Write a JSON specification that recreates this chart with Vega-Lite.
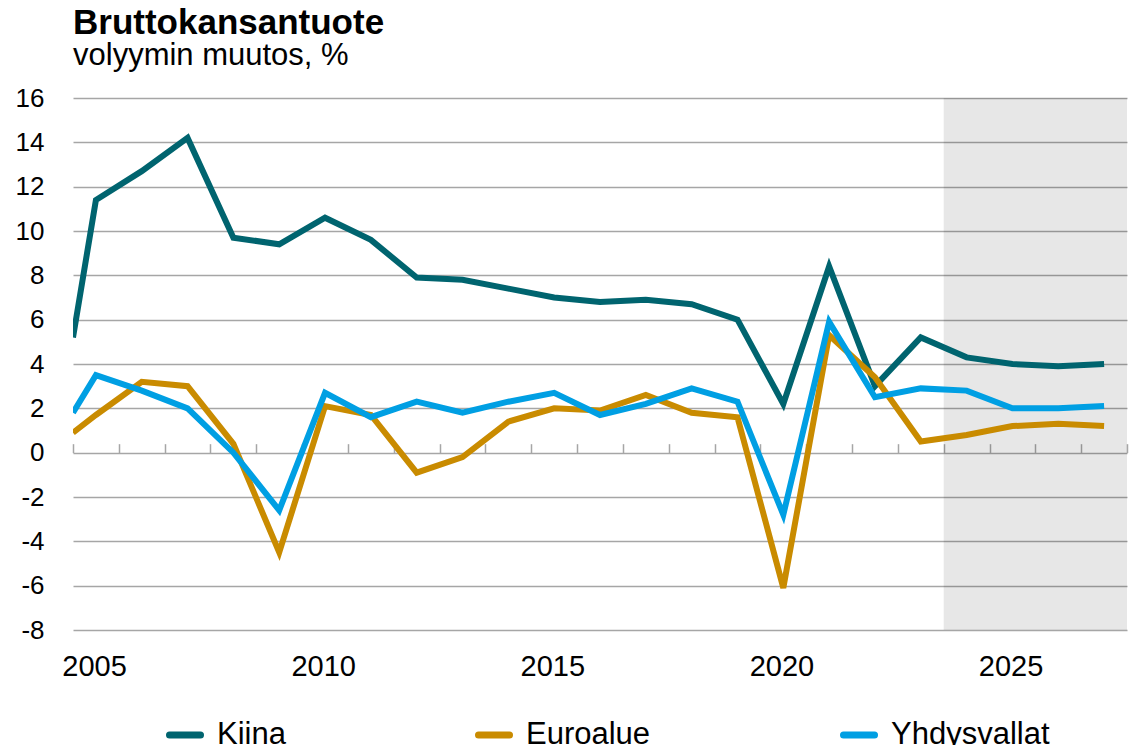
{
  "$schema": "https://vega.github.io/schema/vega-lite/v6.json",
  "width": 1054,
  "height": 532,
  "autosize": {"type": "none"},
  "padding": {"left": 73, "top": 98, "right": 5, "bottom": 115},
  "background": "white",
  "title": {
    "text": "Bruttokansantuote",
    "subtitle": "volyymin muutos, %",
    "anchor": "start",
    "frame": "group",
    "font": "Liberation Sans",
    "fontSize": 35,
    "fontWeight": "bold",
    "color": "#000000",
    "subtitleFont": "Liberation Sans",
    "subtitleFontSize": 31,
    "subtitleColor": "#000000",
    "subtitlePadding": 0,
    "offset": 14
  },
  "data": {
    "values": [
      {"vuosi": 2004.5, "maa": "Kiina", "muutos": 5.2},
      {"vuosi": 2005, "maa": "Kiina", "muutos": 11.4},
      {"vuosi": 2006, "maa": "Kiina", "muutos": 12.7},
      {"vuosi": 2007, "maa": "Kiina", "muutos": 14.2},
      {"vuosi": 2008, "maa": "Kiina", "muutos": 9.7},
      {"vuosi": 2009, "maa": "Kiina", "muutos": 9.4},
      {"vuosi": 2010, "maa": "Kiina", "muutos": 10.6},
      {"vuosi": 2011, "maa": "Kiina", "muutos": 9.6},
      {"vuosi": 2012, "maa": "Kiina", "muutos": 7.9},
      {"vuosi": 2013, "maa": "Kiina", "muutos": 7.8},
      {"vuosi": 2014, "maa": "Kiina", "muutos": 7.4},
      {"vuosi": 2015, "maa": "Kiina", "muutos": 7.0},
      {"vuosi": 2016, "maa": "Kiina", "muutos": 6.8},
      {"vuosi": 2017, "maa": "Kiina", "muutos": 6.9},
      {"vuosi": 2018, "maa": "Kiina", "muutos": 6.7},
      {"vuosi": 2019, "maa": "Kiina", "muutos": 6.0},
      {"vuosi": 2020, "maa": "Kiina", "muutos": 2.2},
      {"vuosi": 2021, "maa": "Kiina", "muutos": 8.4},
      {"vuosi": 2022, "maa": "Kiina", "muutos": 3.0},
      {"vuosi": 2023, "maa": "Kiina", "muutos": 5.2},
      {"vuosi": 2024, "maa": "Kiina", "muutos": 4.3},
      {"vuosi": 2025, "maa": "Kiina", "muutos": 4.0},
      {"vuosi": 2026, "maa": "Kiina", "muutos": 3.9},
      {"vuosi": 2027, "maa": "Kiina", "muutos": 4.0},
      {"vuosi": 2004.5, "maa": "Euroalue", "muutos": 0.9},
      {"vuosi": 2005, "maa": "Euroalue", "muutos": 1.7},
      {"vuosi": 2006, "maa": "Euroalue", "muutos": 3.2},
      {"vuosi": 2007, "maa": "Euroalue", "muutos": 3.0},
      {"vuosi": 2008, "maa": "Euroalue", "muutos": 0.4},
      {"vuosi": 2009, "maa": "Euroalue", "muutos": -4.5},
      {"vuosi": 2010, "maa": "Euroalue", "muutos": 2.1},
      {"vuosi": 2011, "maa": "Euroalue", "muutos": 1.7},
      {"vuosi": 2012, "maa": "Euroalue", "muutos": -0.9},
      {"vuosi": 2013, "maa": "Euroalue", "muutos": -0.2},
      {"vuosi": 2014, "maa": "Euroalue", "muutos": 1.4},
      {"vuosi": 2015, "maa": "Euroalue", "muutos": 2.0},
      {"vuosi": 2016, "maa": "Euroalue", "muutos": 1.9},
      {"vuosi": 2017, "maa": "Euroalue", "muutos": 2.6},
      {"vuosi": 2018, "maa": "Euroalue", "muutos": 1.8},
      {"vuosi": 2019, "maa": "Euroalue", "muutos": 1.6},
      {"vuosi": 2020, "maa": "Euroalue", "muutos": -6.1},
      {"vuosi": 2021, "maa": "Euroalue", "muutos": 5.3},
      {"vuosi": 2022, "maa": "Euroalue", "muutos": 3.4},
      {"vuosi": 2023, "maa": "Euroalue", "muutos": 0.5},
      {"vuosi": 2024, "maa": "Euroalue", "muutos": 0.8},
      {"vuosi": 2025, "maa": "Euroalue", "muutos": 1.2},
      {"vuosi": 2026, "maa": "Euroalue", "muutos": 1.3},
      {"vuosi": 2027, "maa": "Euroalue", "muutos": 1.2},
      {"vuosi": 2004.5, "maa": "Yhdysvallat", "muutos": 1.8},
      {"vuosi": 2005, "maa": "Yhdysvallat", "muutos": 3.5},
      {"vuosi": 2006, "maa": "Yhdysvallat", "muutos": 2.8},
      {"vuosi": 2007, "maa": "Yhdysvallat", "muutos": 2.0},
      {"vuosi": 2008, "maa": "Yhdysvallat", "muutos": 0.0},
      {"vuosi": 2009, "maa": "Yhdysvallat", "muutos": -2.6},
      {"vuosi": 2010, "maa": "Yhdysvallat", "muutos": 2.7},
      {"vuosi": 2011, "maa": "Yhdysvallat", "muutos": 1.6},
      {"vuosi": 2012, "maa": "Yhdysvallat", "muutos": 2.3},
      {"vuosi": 2013, "maa": "Yhdysvallat", "muutos": 1.8},
      {"vuosi": 2014, "maa": "Yhdysvallat", "muutos": 2.3},
      {"vuosi": 2015, "maa": "Yhdysvallat", "muutos": 2.7},
      {"vuosi": 2016, "maa": "Yhdysvallat", "muutos": 1.7},
      {"vuosi": 2017, "maa": "Yhdysvallat", "muutos": 2.2},
      {"vuosi": 2018, "maa": "Yhdysvallat", "muutos": 2.9},
      {"vuosi": 2019, "maa": "Yhdysvallat", "muutos": 2.3},
      {"vuosi": 2020, "maa": "Yhdysvallat", "muutos": -2.8},
      {"vuosi": 2021, "maa": "Yhdysvallat", "muutos": 5.9},
      {"vuosi": 2022, "maa": "Yhdysvallat", "muutos": 2.5},
      {"vuosi": 2023, "maa": "Yhdysvallat", "muutos": 2.9},
      {"vuosi": 2024, "maa": "Yhdysvallat", "muutos": 2.8},
      {"vuosi": 2025, "maa": "Yhdysvallat", "muutos": 2.0},
      {"vuosi": 2026, "maa": "Yhdysvallat", "muutos": 2.0},
      {"vuosi": 2027, "maa": "Yhdysvallat", "muutos": 2.1}
    ]
  },
  "layer": [
    {
      "data": {"values": [{"jakso": "ennuste"}]},
      "mark": {"type": "rect", "fill": "#000000", "opacity": 0.095},
      "encoding": {
        "x": {"datum": 2023.5, "type": "quantitative"},
        "x2": {"datum": 2027.5}
      }
    },
    {
      "mark": {"type": "line", "strokeWidth": 6, "strokeJoin": "miter", "strokeCap": "butt", "clip": true},
      "encoding": {
        "x": {
          "field": "vuosi",
          "type": "quantitative",
          "scale": {"domain": [2004.5, 2027.5], "nice": false, "zero": false},
          "axis": {
            "title": null,
            "values": [2004.5, 2005.5, 2006.5, 2007.5, 2008.5, 2009.5, 2010.5, 2011.5, 2012.5, 2013.5, 2014.5, 2015.5, 2016.5, 2017.5, 2018.5, 2019.5, 2020.5, 2021.5, 2022.5, 2023.5, 2024.5, 2025.5, 2026.5, 2027.5],
            "labelExpr": "(datum.value + 0.5) % 5 == 0 ? format(datum.value + 0.5, 'd') : ''",
            "labelOffset": 21,
            "offset": -177.33,
            "domain": false,
            "ticks": true,
            "tickSize": -9,
            "tickColor": "#A6A6A6",
            "tickWidth": 1.5,
            "grid": false,
            "labelPadding": 209,
            "labelFont": "Liberation Sans",
            "labelFontSize": 29,
            "labelColor": "#000000",
            "labelFlush": false,
            "labelOverlap": false
          }
        },
        "y": {
          "field": "muutos",
          "type": "quantitative",
          "scale": {"domain": [-8, 16], "nice": false},
          "axis": {
            "title": null,
            "values": [-8, -6, -4, -2, 0, 2, 4, 6, 8, 10, 12, 14, 16],
            "labelExpr": "toString(datum.value)",
            "domain": false,
            "ticks": false,
            "grid": true,
            "gridColor": "#A6A6A6",
            "gridWidth": 1.5,
            "labelPadding": 29,
            "labelFont": "Liberation Sans",
            "labelFontSize": 26,
            "labelColor": "#000000"
          }
        },
        "color": {
          "field": "maa",
          "type": "nominal",
          "sort": ["Kiina", "Euroalue", "Yhdysvallat"],
          "scale": {"domain": ["Kiina", "Euroalue", "Yhdysvallat"], "range": ["#00646F", "#C98B00", "#009FE3"]},
          "legend": {
            "title": null,
            "orient": "none",
            "legendX": 93,
            "legendY": 618,
            "direction": "horizontal",
            "columnPadding": 178,
            "symbolType": "stroke",
            "symbolSize": 961,
            "symbolStrokeWidth": 7,
            "labelOffset": 13,
            "labelFont": "Liberation Sans",
            "labelFontSize": 31,
            "labelColor": "#000000",
            "labelLimit": 400,
            "padding": 0,
            "encode": {"symbols": {"update": {"strokeCap": {"value": "round"}}}}
          }
        }
      }
    }
  ],
  "config": {"view": {"stroke": null}}
}
